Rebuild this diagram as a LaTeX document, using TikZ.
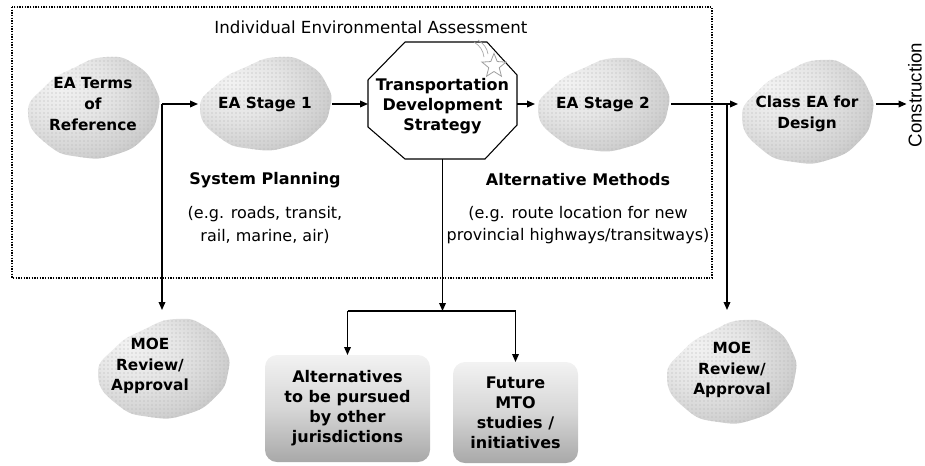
\documentclass[tikz,border=0pt]{standalone}
\usepackage{fontspec}
\setmainfont{DejaVu Sans}
\newfontfamily\arialf{Liberation Sans}
\usetikzlibrary{arrows.meta,shapes.geometric,patterns,calc}
\pgfdeclareradialshading{blobsh}{\pgfpoint{-14bp}{12bp}}{color(0bp)=(gray!10); color(16bp)=(gray!20); color(30bp)=(gray!36); color(42bp)=(gray!58); color(52bp)=(gray!70); color(70bp)=(gray!74)}
\newcommand\blobpath[4]{%
  \begin{scope}[shift={(#1,#2)},xscale=#3,yscale=#4]
    \shade[shading=blobsh] plot[smooth cycle,tension=0.9] coordinates {(-1,0.15) (-0.75,-0.4) (-0.3,-0.78) (0.2,-1) (0.65,-0.85) (0.95,-0.4) (1,0.1) (0.8,0.6) (0.35,0.95) (-0.2,1) (-0.7,0.75)};
    \fill[pattern=dots,pattern color=gray!60] plot[smooth cycle,tension=0.9] coordinates {(-1,0.15) (-0.75,-0.4) (-0.3,-0.78) (0.2,-1) (0.65,-0.85) (0.95,-0.4) (1,0.1) (0.8,0.6) (0.35,0.95) (-0.2,1) (-0.7,0.75)};
  \end{scope}}
\tikzset{
  arr/.style={line width=1pt,-{Triangle[length=6pt,width=5pt]}},
  ln/.style={line width=1pt},
  blobtxt/.style={font=\fontsize{11.5pt}{15.5pt}\selectfont\bfseries,align=center,inner sep=0pt,outer sep=0pt},
  boxtxt/.style={font=\fontsize{12pt}{15pt}\selectfont\bfseries,align=center,inner sep=0pt,outer sep=0pt,
     rounded corners=9pt,top color=gray!10,bottom color=gray!68,middle color=gray!32},
  subtxt/.style={font=\fontsize{12pt}{17pt}\selectfont,align=center,inner sep=0pt},
  headtxt/.style={font=\fontsize{12pt}{15pt}\selectfont\bfseries,align=center,inner sep=0pt,outer sep=0pt}
}
\begin{document}
\begin{tikzpicture}[x=0.75pt,y=-0.75pt]
\useasboundingbox (0,0) rectangle (925,465);
% frame
\draw[line width=1.1pt,dash pattern=on 1pt off 1pt] (12,7) rectangle (712,278);
\node[font=\fontsize{12.5pt}{15pt}\selectfont] (title) at (371,27) {Individual Environmental Assessment};
% blobs
\blobpath{93}{107}{65}{50}
\blobpath{265}{103}{65}{46}
\blobpath{603}{104}{65}{46}
\blobpath{807}{111}{65}{51}
\blobpath{163}{368}{65}{49}
\blobpath{731}{371}{64}{51}
% octagon
\draw[line width=0.8pt,fill=white] (405,42) -- (487,42) -- (517,75) -- (517,125) -- (485,159) -- (405,159) -- (368,127) -- (368,80) -- cycle;
\draw[gray!70,line width=0.5pt] (474,42) .. controls (480,46) and (483,50) .. (484,57);
\draw[gray!70,line width=0.5pt] (478,40) .. controls (484,44) and (487,48) .. (488,54);
\node[star,star points=5,star point ratio=2.3,minimum size=19pt,draw=gray!75,fill=white,line width=0.6pt,inner sep=0pt] (spark) at (494,66) {};
% nodes
\node[blobtxt,minimum width=103.5pt] (eat) at (93,104) {EA Terms\\of\\Reference};
\node[blobtxt,minimum width=100.5pt] (ea1) at (265,104) {EA Stage 1};
\node[headtxt,minimum width=111.75pt,minimum height=79.5pt] (tds) at (442.5,106) {Transportation\\Development\\Strategy};
\node[blobtxt,minimum width=102pt] (ea2) at (603,104) {EA Stage 2};
\node[blobtxt,minimum width=103.5pt] (class) at (807,114) {Class EA for\\Design};
\node[font=\arialf\fontsize{14pt}{16pt}\selectfont,rotate=90,inner sep=1pt] (cons) at (915,95) {Construction};
\node[blobtxt,minimum height=84pt] (moe1) at (150,366) {MOE\\Review/\\Approval};
\node[blobtxt,minimum height=90pt] (moe2) at (732,370) {MOE\\Review/\\Approval};
\node[headtxt] (sp) at (265,180) {System Planning};
\node[subtxt] (spx) at (265,225) {(e.g. roads, transit,\\rail, marine, air)};
\node[headtxt] (am) at (578,180) {Alternative Methods};
\node[subtxt] (amx) at (578,225) {(e.g. route location for new\\provincial highways/transitways)};
\node[boxtxt,minimum width=123.75pt,minimum height=80.25pt] (alt) at (347.5,408.5) {Alternatives\\to be pursued\\by other\\jurisdictions};
\node[boxtxt,minimum width=93.75pt,minimum height=75.75pt] (fut) at (515.5,412.5) {Future\\MTO\\studies /\\initiatives};
% connectors
\coordinate (j2) at (727,104);
\coordinate (hb) at (442.5,311);
\draw[arr] (eat.east) -- (ea1.west);
\draw[arr] (eat.east) -- (eat.east |- moe1.north);
\draw[arr] (ea1.east) -- (ea1.east -| tds.west);
\draw[arr] (tds.east |- ea2.west) -- (ea2.west);
\draw[arr] (ea2.east) -- (ea2.east -| class.west);
\draw[arr] (j2) -- (j2 |- moe2.north);
\draw[arr] (class.east |- ea2.east) -- (cons.north |- ea2.east);
\draw[arr] (tds.south) -- (hb);
\draw[ln] (alt.north |- hb) -- (fut.north |- hb);
\draw[arr] (alt.north |- hb) -- (alt.north);
\draw[arr] (fut.north |- hb) -- (fut.north);
\end{tikzpicture}
\end{document}
